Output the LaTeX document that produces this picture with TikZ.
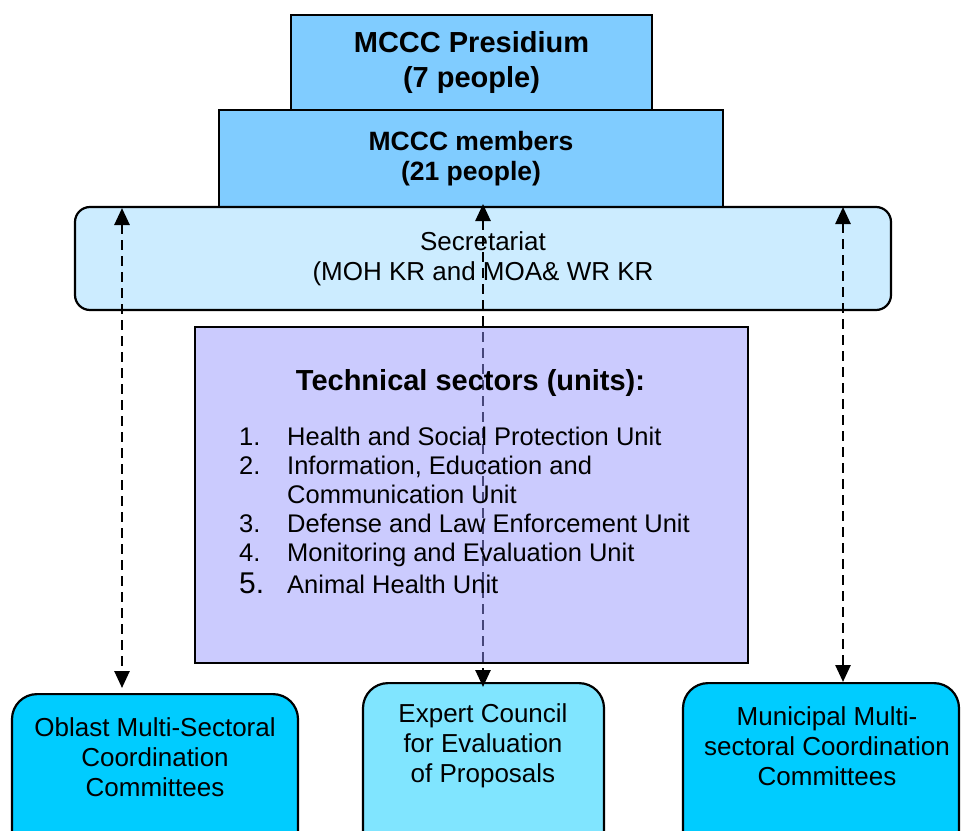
\documentclass[tikz,border=0pt]{standalone}
\usepackage{fontspec}
\setmainfont{Liberation Sans}
\usetikzlibrary{arrows.meta}
\definecolor{presc}{RGB}{128,204,255}
\definecolor{secc}{RGB}{204,236,255}
\definecolor{techc}{RGB}{147,147,253}
\definecolor{cyanbox}{RGB}{0,204,255}
\definecolor{expertc}{RGB}{128,229,255}
\begin{document}
\begin{tikzpicture}[x=1pt,y=-1pt,
  box/.style={draw=black, line width=2.2pt, inner sep=0pt, align=center},
  bbox/.style={box, rounded corners=25pt, anchor=north, minimum height=200pt},
  btext/.style={inner sep=0pt, align=center, font=\fontsize{26}{30}\selectfont},
  itemtext/.style={inner sep=0pt, anchor=base west, font=\fontsize{25.5}{29}\selectfont},
  dasharr/.style={line width=2.6pt, dash pattern=on 10pt off 6pt,
    {Triangle[length=17pt,width=15pt]}-{Triangle[length=17pt,width=15pt]}}]
\useasboundingbox (0,0) rectangle (961,830);
\clip (0,0) rectangle (961,830);
% top boxes
\node[box, fill=presc, minimum width=504pt, minimum height=97pt,
  font=\fontsize{26.5}{30}\selectfont\bfseries] (memb) at (471,158.5) {MCCC members\\(21 people)};
\node[box, fill=presc, minimum width=361pt, minimum height=95pt,
  font=\fontsize{29}{34}\selectfont\bfseries] (pres) at (471.5,62.5) {MCCC Presidium\\(7 people)};
\node[box, fill=secc, rounded corners=15pt, minimum width=816pt, minimum height=103pt,
  font=\fontsize{26}{30}\selectfont] (sec) at (483,258.5) {Secretariat\\(MOH KR and MOA\& WR KR};
% bottom boxes
\node[bbox, fill=cyanbox, minimum width=286pt] (oblast) at (155,693) {};
\node[bbox, fill=expertc, minimum width=241pt] (expert) at (483.5,682) {};
\node[bbox, fill=cyanbox, minimum width=276pt] (munic) at (821,682) {};
\node[btext] (oblastT) at (155,757) {Oblast Multi-Sectoral\\Coordination\\Committees};
\node[btext] (expertT) at (483,746) {Expert Council\\for Evaluation\\of Proposals};
\node[btext] (municT) at (827,746) {Municipal Multi-\\sectoral Coordination\\Committees};
% arrows
\coordinate (l1) at (122,208);
\coordinate (l2) at (122,688);
\coordinate (m1) at (483,204);
\coordinate (m2) at (483,687);
\coordinate (r1) at (843,207);
\coordinate (r2) at (843,682);
\draw[dasharr] (l1) -- (l2);
\draw[dasharr] (m1) -- (m2);
\draw[dasharr] (r1) -- (r2);
% technical box (semi-transparent over the middle connector)
\node[draw=black, line width=2.2pt, fill=techc, fill opacity=0.48, draw opacity=1,
  minimum width=553pt, minimum height=336pt, inner sep=0pt] (tech) at (471.5,495) {};
\node[inner sep=0pt, anchor=base, font=\fontsize{29}{34}\selectfont\bfseries] (thead) at (470.5,390) {Technical sectors (units):};
\node[itemtext] (n1) at (239,445) {1.};
\node[itemtext] (t1) at (287,445) {Health and Social Protection Unit};
\node[itemtext] (n2) at (239,474) {2.};
\node[itemtext] (t2) at (287,474) {Information, Education and};
\node[itemtext] (t2b) at (287,503) {Communication Unit};
\node[itemtext] (n3) at (239,532) {3.};
\node[itemtext] (t3) at (287,532) {Defense and Law Enforcement Unit};
\node[itemtext] (n4) at (239,561) {4.};
\node[itemtext] (t4) at (287,561) {Monitoring and Evaluation Unit};
\node[itemtext, font=\fontsize{30}{34}\selectfont] (n5) at (239,593) {5.};
\node[itemtext] (t5) at (287,593) {Animal Health Unit};
\end{tikzpicture}
\end{document}
